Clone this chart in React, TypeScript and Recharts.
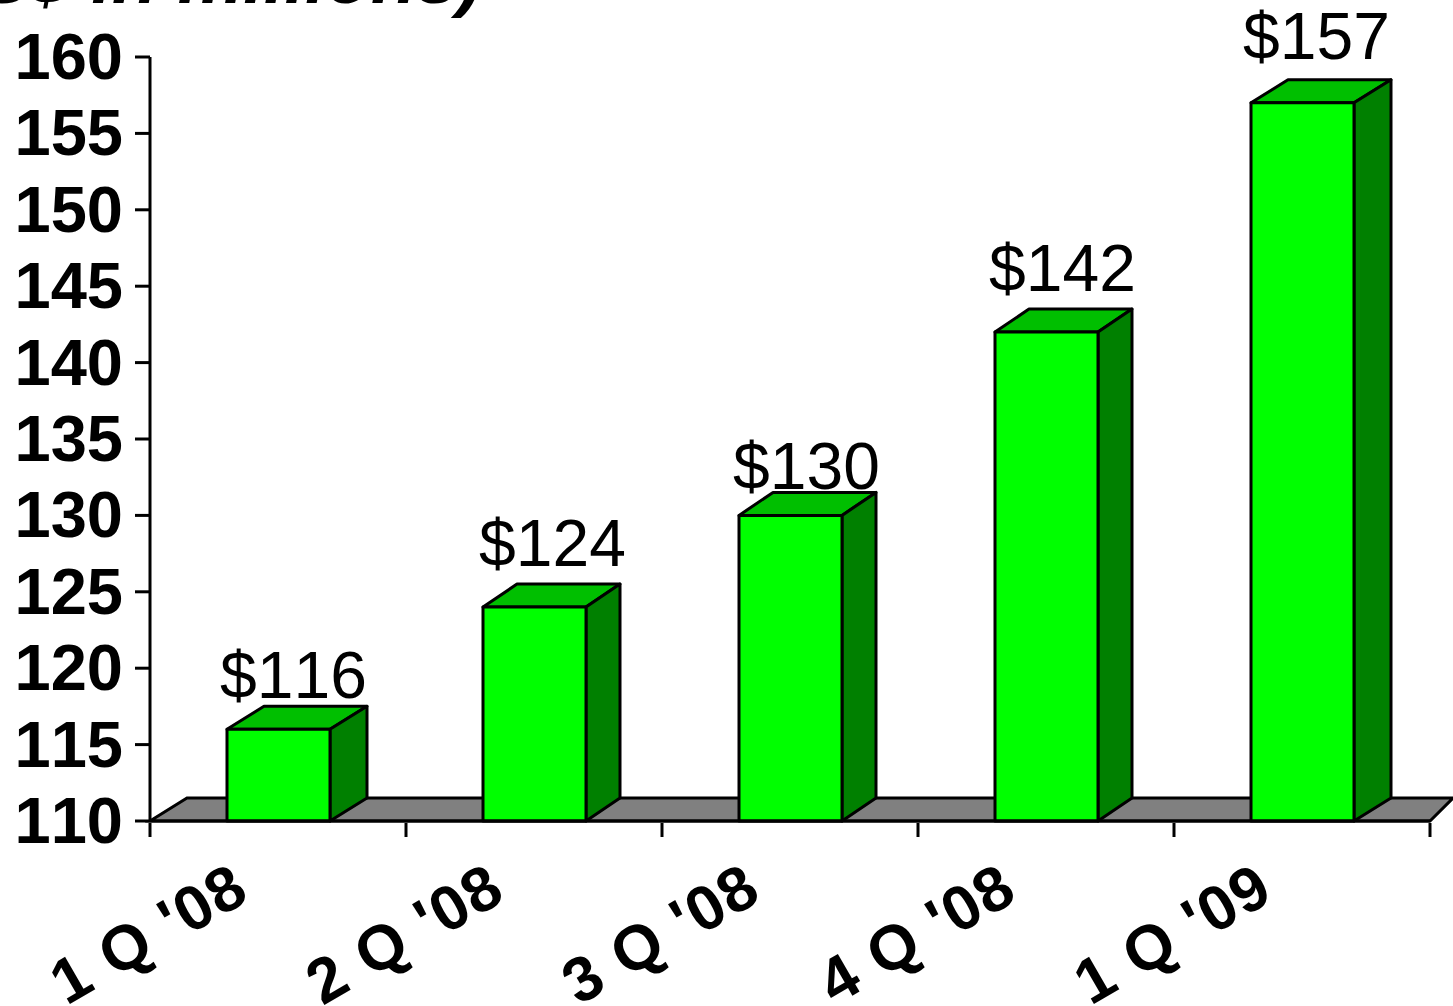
import { BarChart, Bar, XAxis, YAxis, LabelList, ReferenceArea } from 'recharts';

const quarters = ["1 Q '08", "2 Q '08", "3 Q '08", "4 Q '08", "1 Q '09"];
const revenue = [116, 124, 130, 142, 157];
const yTicks = [110, 115, 120, 125, 130, 135, 140, 145, 150, 155, 160];

const data = quarters.map((name, i) => ({ name, revenue: revenue[i] }));

const FONT = '"Liberation Sans", Arial, sans-serif';
const DEPTH_Y = 23;
const HALF_BAND = 128;
const depthX = [37, 34, 34, 34, 37];
const labelShift = [
  { dx: 15, dy: -31 },
  { dx: 18, dy: -41 },
  { dx: 16, dy: -26 },
  { dx: 16, dy: -41 },
  { dx: 14, dy: -44 },
];

const Bar3D = ({ x, y, width, height, index }: any) => {
  const dx = depthX[index];
  const right = x + width;
  const bottom = y + height;
  return (
    <g stroke='#000' strokeWidth={3} strokeLinejoin='round'>
      <polygon
        points={`${x},${y} ${x + dx},${y - DEPTH_Y} ${right + dx},${y - DEPTH_Y} ${right},${y}`}
        fill='#00bf00'
      />
      <polygon
        points={`${right},${y} ${right + dx},${y - DEPTH_Y} ${right + dx},${bottom - DEPTH_Y} ${right},${bottom}`}
        fill='#008000'
      />
      <rect x={x} y={y} width={width} height={height} fill='#00ff00' />
    </g>
  );
};

const Floor = ({ x, y, width, height }: any) => (
  <polygon
    points={`${x},${y + height} ${x + 37},${y} ${x + width + 23},${y} ${x + width},${y + height}`}
    fill='#808080'
    stroke='#000'
    strokeWidth={3}
  />
);

const renderValueLabel = ({ x, y, width, value, index }: any) => (
  <text
    x={x + width / 2 + labelShift[index].dx}
    y={y + labelShift[index].dy}
    textAnchor='middle'
    fontFamily={FONT}
    fontSize={66}
    fill='#000'
    style={{ fontKerning: 'none' }}
  >{`$${value}`}</text>
);

// ticks sit on the category edges, the labels hang below the centre
const QuarterTick = ({ x, y, payload, index }: any) => (
  <g>
    <line x1={x - HALF_BAND} x2={x - HALF_BAND} y1={y - 8} y2={y + 6} stroke='#000' strokeWidth={3} />
    {index === quarters.length - 1 && (
      <line x1={x + HALF_BAND} x2={x + HALF_BAND} y1={y - 8} y2={y + 6} stroke='#000' strokeWidth={3} />
    )}
    <text
      transform={`translate(${x - 127},${y + 107}) rotate(-30)`}
      textAnchor='middle'
      dominantBaseline='middle'
      fontFamily={FONT}
      fontSize={63}
      fontWeight='bold'
      letterSpacing={1.5}
      fill='#000'
      style={{ fontKerning: 'none' }}
    >
      {payload.value}
    </text>
  </g>
);

export default function App() {
  return (
    <div style={{ position: 'absolute', left: 0, top: 0 }}>
      <BarChart
        width={1453}
        height={1006}
        data={data}
        margin={{ top: 57, right: 23, bottom: 0, left: 0 }}
      >
        <text
          x={482}
          y={3}
          textAnchor='end'
          fontFamily={FONT}
          fontSize={74}
          fontWeight='bold'
          fontStyle='italic'
          fill='#000'
          style={{ fontKerning: 'none' }}
        >
          (US$ in millions)
        </text>
        <XAxis
          dataKey='name'
          height={185}
          interval={0}
          tick={<QuarterTick />}
          tickLine={false}
          tickSize={8}
          axisLine={{ stroke: '#000', strokeWidth: 3 }}
        />
        <YAxis
          width={150}
          domain={[110, 160]}
          ticks={yTicks}
          interval={0}
          tickSize={15}
          tickMargin={12}
          tick={{ fontFamily: FONT, fontSize: 65, fontWeight: 'bold', fill: '#000', dy: -1, style: { fontKerning: 'none' } }}
          axisLine={{ stroke: '#000', strokeWidth: 3 }}
          tickLine={{ stroke: '#000', strokeWidth: 3 }}
        />
        <ReferenceArea y1={110} y2={111.5} shape={<Floor />} ifOverflow='visible' />
        <Bar
          dataKey='revenue'
          shape={<Bar3D />}
          barSize={103}
          isAnimationActive={false}
        >
          <LabelList dataKey='revenue' content={renderValueLabel} />
        </Bar>
      </BarChart>
    </div>
  );
}
